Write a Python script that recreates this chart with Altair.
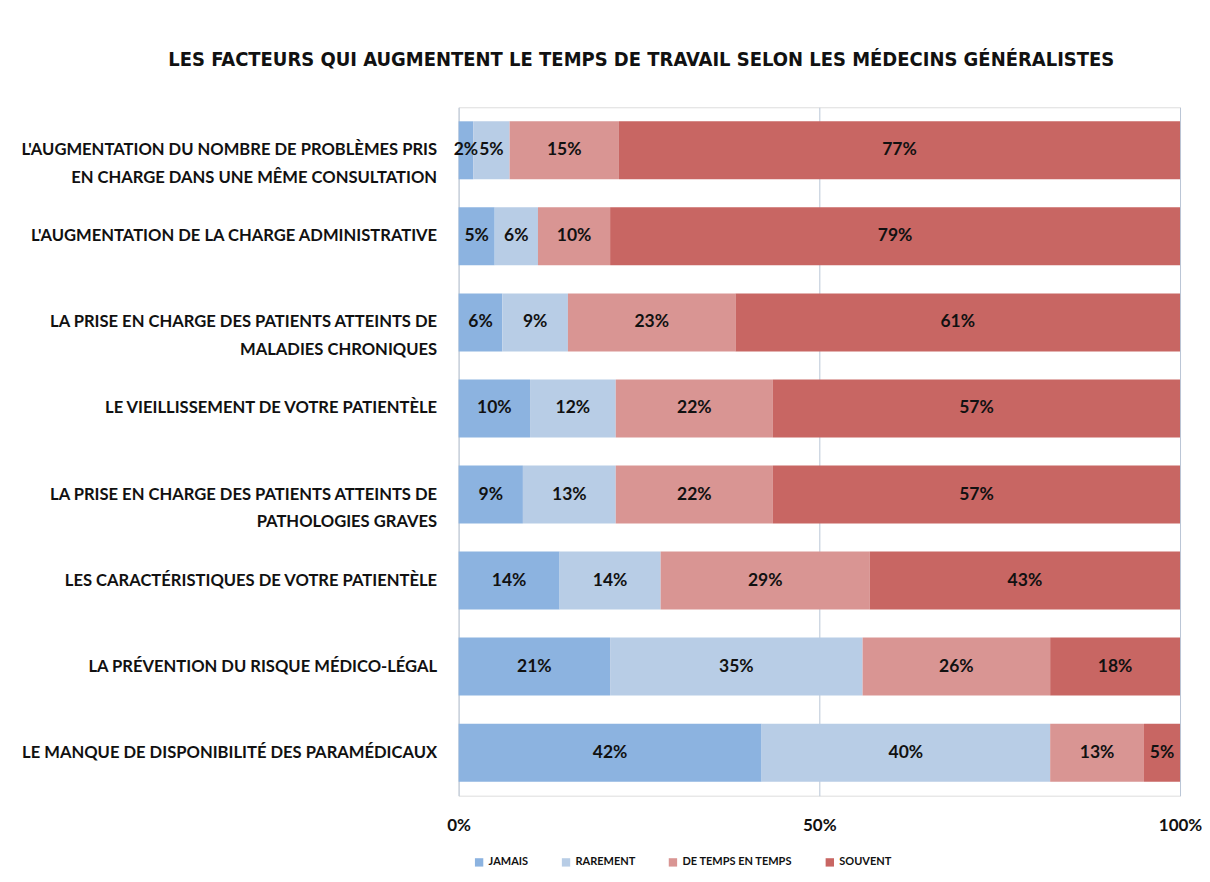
import altair as alt
import pandas as pd

facteurs = [
    "L'augmentation du nombre de problèmes pris|en charge dans une même consultation",
    "L'augmentation de la charge administrative",
    "La prise en charge des patients atteints de|maladies chroniques",
    "Le vieillissement de votre patientèle",
    "La prise en charge des patients atteints de|pathologies graves",
    "Les caractéristiques de votre patientèle",
    "La prévention du risque médico-légal",
    "Le manque de disponibilité des paramédicaux",
]
reponses = ["Jamais", "Rarement", "De temps en temps", "Souvent"]
jamais = [2, 5, 6, 10, 9, 14, 21, 42]
rarement = [5, 6, 9, 12, 13, 14, 35, 40]
de_temps_en_temps = [15, 10, 23, 22, 22, 29, 26, 13]
souvent = [77, 79, 61, 57, 57, 43, 18, 5]
couleurs = ["#8CB3E0", "#B8CDE6", "#D99593", "#C86663"]
graduations = [0, 0.5, 1]

series = [jamais, rarement, de_temps_en_temps, souvent]
rows = []
for i, f in enumerate(facteurs):
    for k, (r, vals) in enumerate(zip(reponses, series)):
        rows.append({"facteur": f, "reponse": r, "ordre": k, "valeur": vals[i]})
df = pd.DataFrame(rows)

FONT = "Lato"

base = (
    alt.Chart(df)
    .transform_joinaggregate(total="sum(valeur)", groupby=["facteur"])
    .transform_calculate(part="datum.valeur / datum.total")
    .transform_stack(
        stack="part",
        as_=["debut", "fin"],
        groupby=["facteur"],
        sort=[alt.SortField("ordre", order="ascending")],
    )
    .transform_calculate(
        milieu="(datum.debut + datum.fin) / 2",
        etiquette="datum.valeur + '%'",
    )
)

y_enc = alt.Y(
    "facteur:N",
    sort=facteurs,
    title=None,
    scale=alt.Scale(paddingInner=0.326, paddingOuter=0.163),
    axis=alt.Axis(
        labelExpr="split(upper(datum.label), '|')",
        labelFont=FONT,
        labelFontSize=16.6,
        labelFontWeight="bold",
        labelColor="#111111",
        labelPadding=22,
        labelLimit=600,
        labelLineHeight=28,
        domain=False,
        ticks=False,
        grid=False,
    ),
)

bars = base.mark_bar().encode(
    x=alt.X(
        "debut:Q",
        scale=alt.Scale(domain=[0, 1], nice=False),
        title=None,
        axis=alt.Axis(
            values=graduations,
            format="%",
            labelFont=FONT,
            labelFontSize=17,
            labelFontWeight="bold",
            labelColor="#111111",
            labelPadding=22,
            labelFlush=False,
            domain=False,
            ticks=False,
            grid=True,
            gridColor="#B9C6D6",
            gridWidth=1,
        ),
    ),
    x2="fin:Q",
    y=y_enc,
    color=alt.Color(
        "reponse:N",
        sort=reponses,
        scale=alt.Scale(domain=reponses, range=couleurs),
        legend=alt.Legend(
            title=None,
            orient="none",
            legendX=15,
            legendY=750,
            direction="horizontal",
            symbolType="square",
            symbolSize=70,
            symbolStrokeWidth=0,
            labelExpr="upper(datum.label)",
            labelFont=FONT,
            labelFontSize=11,
            labelFontWeight="bold",
            labelColor="#111111",
            columnPadding=32,
            labelOffset=4,
        ),
    ),
)

labels = base.mark_text(
    font=FONT, fontSize=17.5, fontWeight="bold", color="#111111"
).encode(
    x=alt.X("milieu:Q"),
    y=alt.Y("facteur:N", sort=facteurs),
    text="etiquette:N",
)

chart = (
    alt.layer(bars, labels)
    .properties(
        width=722,
        height=689,
        padding={"left": 12, "top": 42, "right": 0, "bottom": 5},
        title=alt.TitleParams(
            "LES FACTEURS QUI AUGMENTENT LE TEMPS DE TRAVAIL SELON LES MÉDECINS GÉNÉRALISTES",
            font="DejaVu Sans Condensed",
            fontSize=20,
            fontWeight="bold",
            color="#111111",
            anchor="middle",
            frame="bounds",
            offset=37,
            dx=30,
        ),
    )
    .configure_view(stroke=None)
    .configure(background="white")
)

chart.save("out.html", embed_options={"renderer": "svg", "actions": False})
